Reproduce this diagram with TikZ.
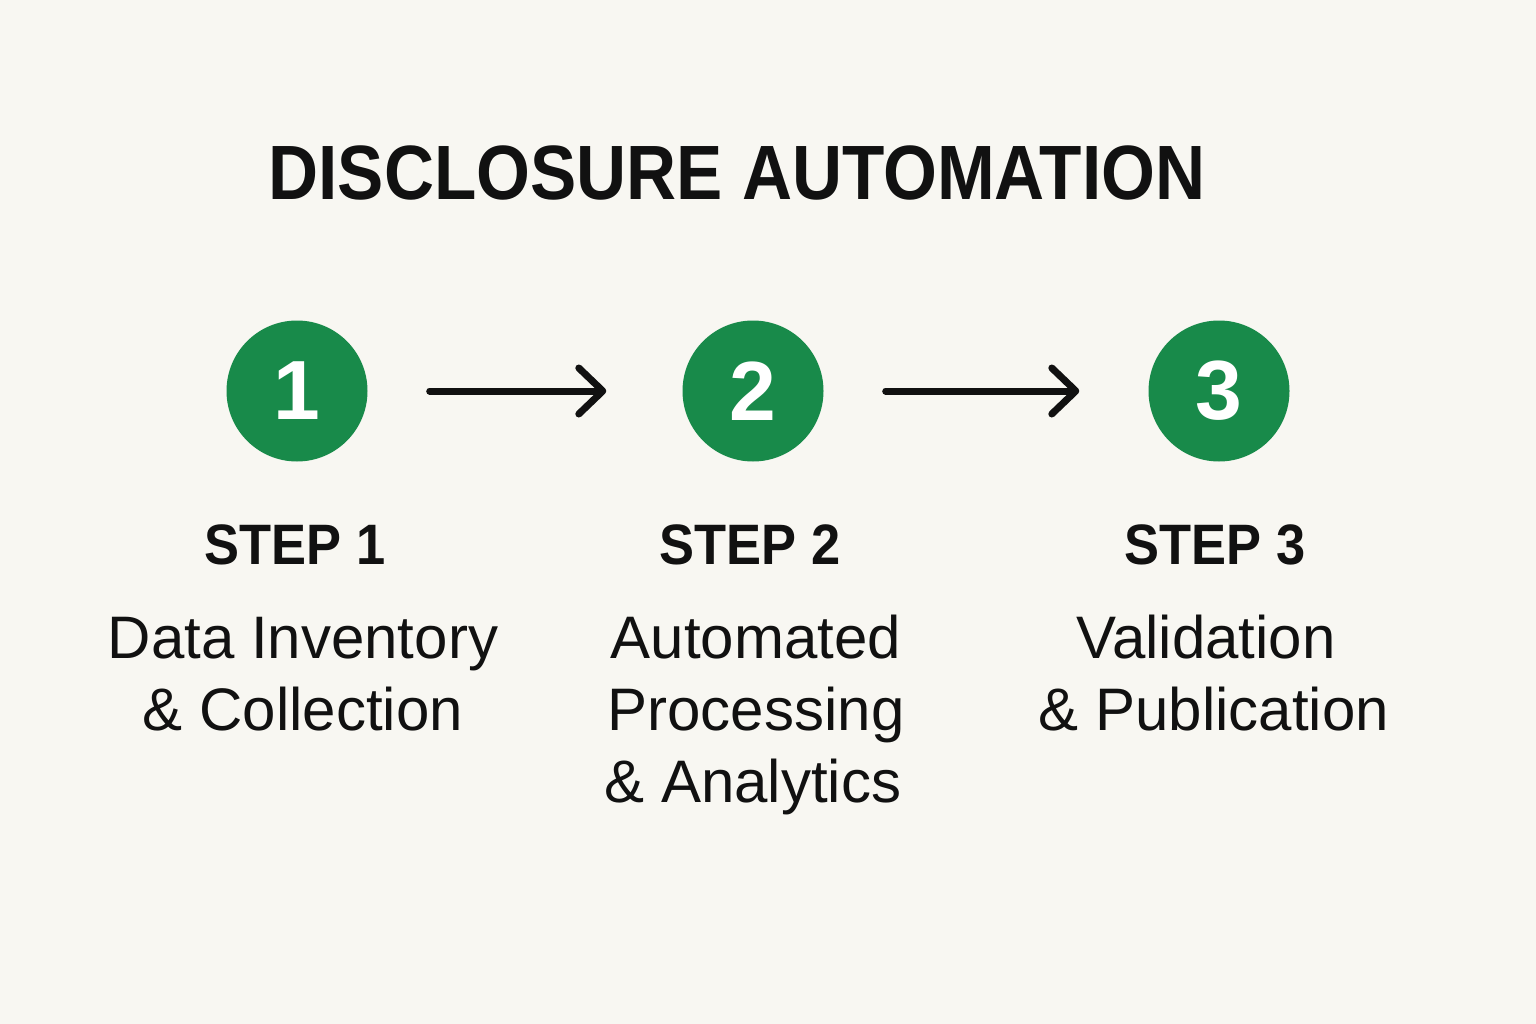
\documentclass[tikz,border=0pt]{standalone}
\usepackage{fontspec}
\setmainfont{Liberation Sans}
\usetikzlibrary{arrows.meta}
\definecolor{bgc}{HTML}{F8F7F2}
\definecolor{stepgreen}{HTML}{188A4A}
\definecolor{inkc}{HTML}{111111}
\tikzset{
  numcircle/.style={circle, fill=stepgreen, minimum size=141pt, inner sep=0pt,
    text=white, font=\fontsize{84}{84}\selectfont\bfseries},
  steplabel/.style={anchor=base, text=inkc, inner sep=0pt, font=\fontsize{57}{57}\selectfont\bfseries},
  desc/.style={anchor=base, text=inkc, inner sep=0pt, font=\fontsize{60}{72}\selectfont},
  flow/.style={draw=inkc, line width=7pt, line cap=round,
    -{Straight Barb[length=24pt,width=46pt,round]}, shorten <=62pt}
}
\begin{document}
\begin{tikzpicture}[x=1pt,y=-1pt]
\fill[bgc] (0,0) rectangle (1536,1024);
\useasboundingbox (0,0) rectangle (1536,1024);
\node[anchor=base, inner sep=0pt, text=inkc, font=\fontsize{77}{77}\selectfont\bfseries] (title) at (737,200) {\scalebox{0.9}[1]{DISCLOSURE AUTOMATION}};
\node[numcircle] (c1) at (297,391) {1};
\node[numcircle] (c2) at (753,391) {2};
\node[numcircle] (c3) at (1219,391) {3};
\draw[flow, shorten >=76pt] (c1) -- (c2);
\draw[flow, shorten >=69pt] (c2) -- (c3);
\node[steplabel] (s1) at (295,564) {\scalebox{0.92}[1]{STEP 1}};
\node[steplabel] (s2) at (750,564) {\scalebox{0.92}[1]{STEP 2}};
\node[steplabel] (s3) at (1215,564) {\scalebox{0.92}[1]{STEP 3}};
\node[desc] (d1a) at (303,658) {Data Inventory};
\node[desc] (d1b) at (303,730) {\& Collection};
\node[desc] (d2a) at (756,658) {Automated};
\node[desc] (d2b) at (756,730) {Processing};
\node[desc] (d2c) at (753,802) {\& Analytics};
\node[desc] (d3a) at (1206,658) {Validation};
\node[desc] (d3b) at (1214,730) {\& Publication};
\end{tikzpicture}
\end{document}
